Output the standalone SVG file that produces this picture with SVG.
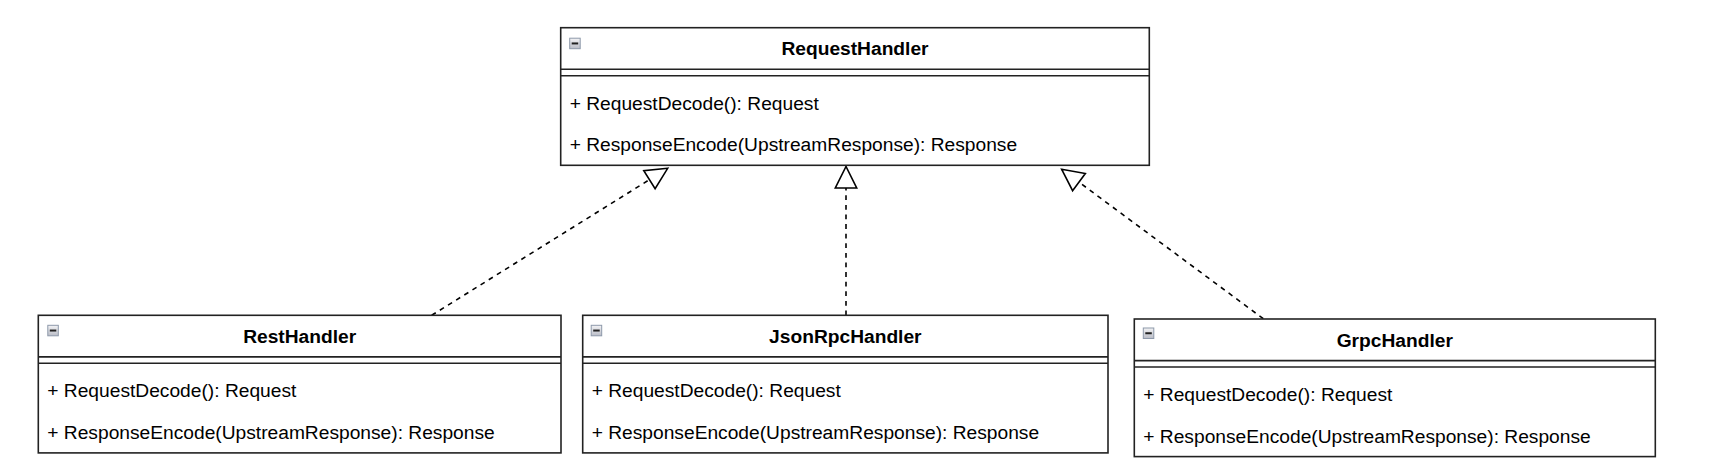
<svg xmlns="http://www.w3.org/2000/svg" width="1718" height="474" viewBox="0 0 1718 474">
<style>
.box{fill:#fff;stroke:#222;stroke-width:1.6}
.ln{stroke:#222;stroke-width:1.6;fill:none}
.t{font-family:"Liberation Sans",Arial,Helvetica,sans-serif;font-size:19.2px;fill:#000}
.b{font-weight:bold;text-anchor:middle}
.edge{fill:none;stroke:#000;stroke-width:1.6;stroke-dasharray:4.8 4.8;marker-end:url(#tri)}
</style>
<defs>
<linearGradient id="ig" x1="0" y1="0" x2="0" y2="1">
<stop offset="0" stop-color="#f4f4f6"/>
<stop offset="1" stop-color="#b9bcc6"/>
</linearGradient>
<g id="icon">
<rect x="0.5" y="0.5" width="10.5" height="10.5" fill="url(#ig)" stroke="#8e99aa" stroke-width="1"/>
<line x1="2.5" y1="5.75" x2="9" y2="5.75" stroke="#222" stroke-width="2"/>
</g>
<marker id="tri" markerUnits="userSpaceOnUse" markerWidth="26" markerHeight="26" refX="23" refY="13" orient="auto" overflow="visible">
<path d="M23,13 L1.5,2.3 L1.5,23.7 Z" fill="#fff" stroke="#000" stroke-width="1.6" stroke-linejoin="miter"/>
</marker>
</defs>

<g id="connectors">
<path class="edge" d="M431.7,315.3 L667.7,168.3"/>
<path class="edge" d="M846,315.3 L846,166.5"/>
<path class="edge" d="M1263.3,318.7 L1061.7,169.3"/>
</g>

<g id="RequestHandler" transform="translate(560.7,27.7)">
<rect class="box" x="0" y="0" width="588.6" height="137.6"/>
<line class="ln" x1="0" y1="41.6" x2="588.6" y2="41.6"/>
<line class="ln" x1="0" y1="48" x2="588.6" y2="48"/>
<use href="#icon" x="8.5" y="10"/>
<text class="t b" x="294.3" y="27.7">RequestHandler</text>
<text class="t" x="9" y="82.1">+ RequestDecode(): Request</text>
<text class="t" x="9" y="123.7">+ ResponseEncode(UpstreamResponse): Response</text>
</g>

<g id="RestHandler" transform="translate(38.3,315.3)">
<rect class="box" x="0" y="0" width="522.7" height="137.6"/>
<line class="ln" x1="0" y1="41.6" x2="522.7" y2="41.6"/>
<line class="ln" x1="0" y1="48" x2="522.7" y2="48"/>
<use href="#icon" x="9" y="9.5"/>
<text class="t b" x="261.35" y="27.7">RestHandler</text>
<text class="t" x="9" y="82.1">+ RequestDecode(): Request</text>
<text class="t" x="9" y="123.7">+ ResponseEncode(UpstreamResponse): Response</text>
</g>

<g id="JsonRpcHandler" transform="translate(582.7,315.3)">
<rect class="box" x="0" y="0" width="525.3" height="137.6"/>
<line class="ln" x1="0" y1="41.6" x2="525.3" y2="41.6"/>
<line class="ln" x1="0" y1="48" x2="525.3" y2="48"/>
<use href="#icon" x="8" y="9.5"/>
<text class="t b" x="262.65" y="27.7">JsonRpcHandler</text>
<text class="t" x="9" y="82.1">+ RequestDecode(): Request</text>
<text class="t" x="9" y="123.7">+ ResponseEncode(UpstreamResponse): Response</text>
</g>

<g id="GrpcHandler" transform="translate(1134.3,319)">
<rect class="box" x="0" y="0" width="521" height="137.6"/>
<line class="ln" x1="0" y1="41.6" x2="521" y2="41.6"/>
<line class="ln" x1="0" y1="48" x2="521" y2="48"/>
<use href="#icon" x="8.5" y="8.5"/>
<text class="t b" x="260.5" y="27.7">GrpcHandler</text>
<text class="t" x="9" y="82.1">+ RequestDecode(): Request</text>
<text class="t" x="9" y="123.7">+ ResponseEncode(UpstreamResponse): Response</text>
</g>
</svg>
